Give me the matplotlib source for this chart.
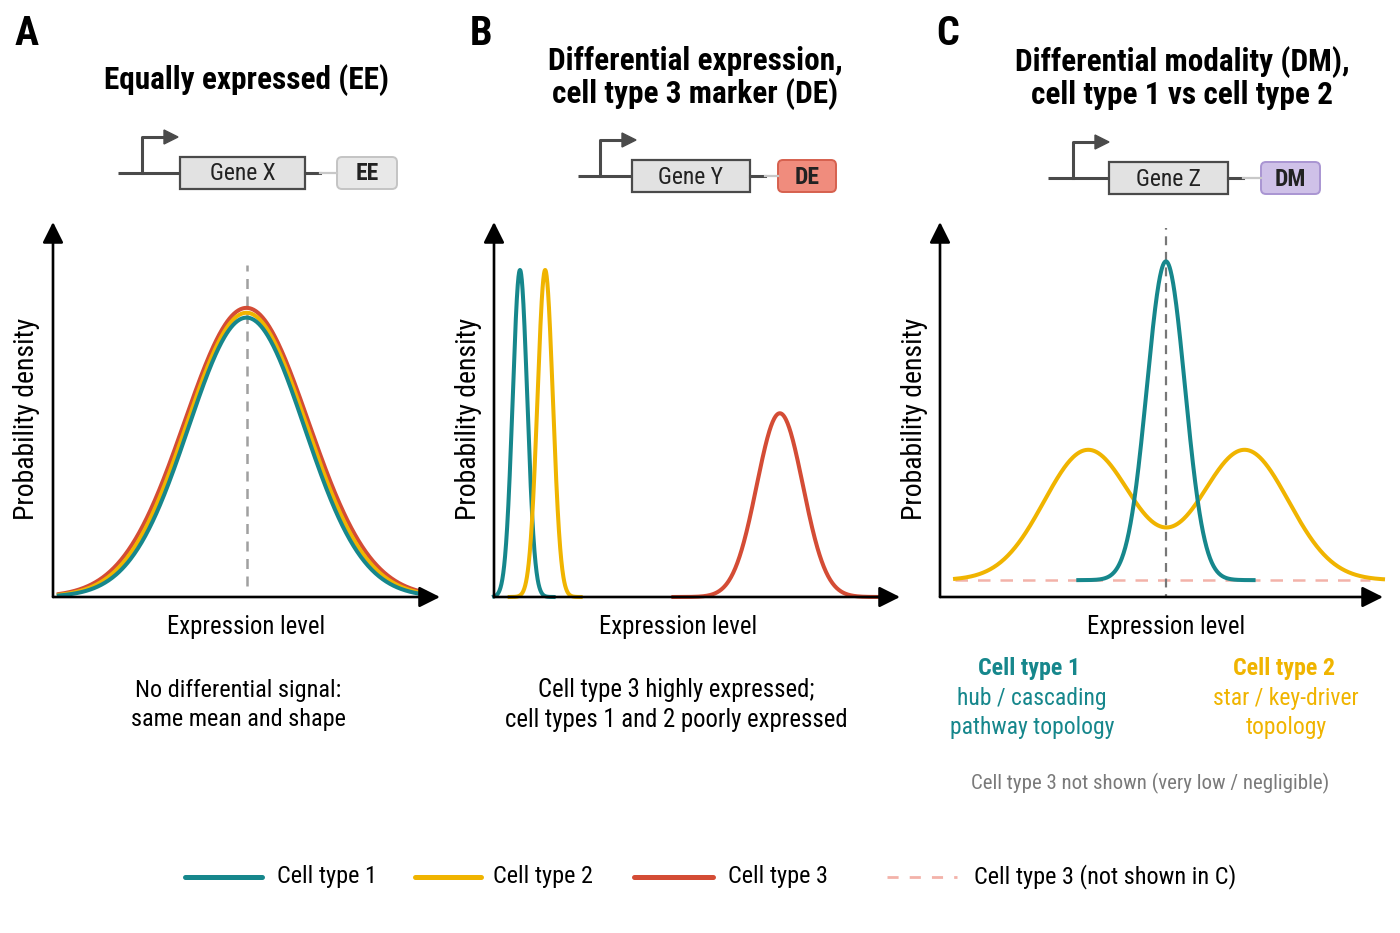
import numpy as np
import matplotlib
matplotlib.use('Agg')
import matplotlib.pyplot as plt
from matplotlib.patches import Rectangle, FancyBboxPatch, Polygon

plt.rcParams['font.family'] = ['Roboto Condensed', 'Liberation Sans Narrow',
                               'DejaVu Sans Condensed', 'Roboto', 'DejaVu Sans']

# colours per cell type
TEAL = '#16878c'
YELLOW = '#f0b400'
RED = '#d44c35'
PINK = '#f3b2a9'

# Gaussian density parameters (x: 0-10, y: 0-1)
# panel A: all three cell types, same mean and shape
a_mean = [5.0, 5.0, 5.0]          # teal, yellow, red
a_sd = [1.50, 1.55, 1.60]
a_peak = [0.745, 0.758, 0.771]

# panel B: types 1 and 2 low, type 3 high
b_mean = [0.64, 1.26, 7.04]
b_sd = [0.18, 0.19, 0.57]
b_peak = [0.872, 0.872, 0.49]

# panel C: type 1 unimodal, type 2 bimodal, on a small baseline
c_base = 0.045
c1_mean, c1_sd, c1_peak = 5.1, 0.43, 0.85
c2_means = [3.34, 6.88]
c2_sd = 0.99
c2_peak = 0.347

legend_labels = ['Cell type 1', 'Cell type 2', 'Cell type 3', 'Cell type 3 (not shown in C)']

W, H = 1400, 933
fig = plt.figure(figsize=(W / 100, H / 100), dpi=100)
fig.patch.set_facecolor('white')


def px_axes(left, right, top, bottom):
    ax = fig.add_axes([left / W, 1 - bottom / H, (right - left) / W, (bottom - top) / H])
    ax.set_xlim(0, 10)
    ax.set_ylim(0, 1)
    ax.axis('off')
    # arrow axes
    ap = dict(arrowstyle='-|>,head_length=0.9,head_width=0.45', lw=1.9, color='black',
              mutation_scale=14, shrinkA=0, shrinkB=0)
    ax.annotate('', xy=(1, 0), xytext=(0, 0), xycoords='axes fraction', arrowprops=ap)
    ax.annotate('', xy=(0, 1), xytext=(0, 0), xycoords='axes fraction', arrowprops=ap)
    return ax


def gauss(x, m, s, h):
    return h * np.exp(-0.5 * ((x - m) / s) ** 2)


axA = px_axes(53, 440, 222, 597)
axB = px_axes(494, 900, 222, 597)
axC = px_axes(940, 1383, 222, 597)

lw = 2.9
# A
x = np.linspace(0.15, 9.6, 500)
axA.plot([5.0, 5.0], [0.03, 0.885], color='#a0a0a0', lw=1.8, ls=(0, (4, 3)), zorder=1)
for m, s, h, c in zip(a_mean[::-1], a_sd[::-1], a_peak[::-1], [RED, YELLOW, TEAL]):
    axA.plot(x, gauss(x, m, s, h), color=c, lw=lw, zorder=2)

# B
for m, s, h, c in zip(b_mean, b_sd, b_peak, [TEAL, YELLOW, RED]):
    xx = np.linspace(max(0.0, m - 4.6 * s), m + 4.6 * s, 400)
    axB.plot(xx, gauss(xx, m, s, h), color=c, lw=lw, clip_on=False)

# C
axC.plot([0.34, 9.7], [c_base, c_base], color=PINK, lw=1.8, ls=(0, (5, 4)), zorder=1)
axC.plot([c1_mean, c1_mean], [-0.015, 0.985], color='#777777', lw=1.6, ls=(0, (4, 3)), zorder=1)
xx = np.linspace(0.34, 10.0, 600)
yy = c_base + gauss(xx, c2_means[0], c2_sd, c2_peak) + gauss(xx, c2_means[1], c2_sd, c2_peak)
axC.plot(xx, yy, color=YELLOW, lw=lw, zorder=2, clip_on=False)
xx = np.linspace(c1_mean - 4.6 * c1_sd, c1_mean + 4.6 * c1_sd, 400)
axC.plot(xx, c_base + gauss(xx, c1_mean, c1_sd, c1_peak), color=TEAL, lw=lw, zorder=3)

# overlay in pixel coordinates for the annotations
ov = fig.add_axes([0, 0, 1, 1], zorder=-1)
ov.set_xlim(0, W)
ov.set_ylim(H, 0)
ov.axis('off')

for lx, letter in [(27, 'A'), (481, 'B'), (948, 'C')]:
    ov.text(lx, 34, letter, fontsize=29, fontweight='bold', ha='center', va='center')

ov.text(246, 80, 'Equally expressed (EE)', fontsize=22.5, fontweight='bold', ha='center', va='center')
ov.text(695, 78, 'Differential expression,\ncell type 3 marker (DE)', fontsize=22.5,
        fontweight='bold', ha='center', va='center', linespacing=1.12)
ov.text(1182, 78, 'Differential modality (DM),\ncell type 1 vs cell type 2', fontsize=22.5,
        fontweight='bold', ha='center', va='center', linespacing=1.12)


def gene(x0, xp, gx0, gx1, y0, y1, tag_x0, tag_x1, name, tag, tfill, tedge):
    yc = (y0 + y1) / 2
    dark = '#4a4a4a'
    ov.plot([x0, gx0], [yc, yc], color=dark, lw=2.2, solid_capstyle='butt')
    ov.plot([xp, xp, xp + 24], [yc, yc - 36, yc - 36], color=dark, lw=2.2)
    ov.add_patch(Polygon([[xp + 22, yc - 43], [xp + 36, yc - 36], [xp + 22, yc - 29]],
                         closed=True, color=dark))
    ov.add_patch(Rectangle((gx0, y0), gx1 - gx0, y1 - y0, facecolor='#e2e2e2',
                           edgecolor=dark, lw=1.6))
    ov.text((gx0 + gx1) / 2, yc + 1, name, fontsize=17, ha='center', va='center', color='#222222')
    ov.plot([gx1, gx1 + 15], [yc, yc], color=dark, lw=2.2)
    ov.plot([gx1 + 15, tag_x0], [yc, yc], color='#c8c8c8', lw=1.6)
    ov.add_patch(FancyBboxPatch((tag_x0, y0), tag_x1 - tag_x0, y1 - y0,
                                boxstyle='round,pad=0,rounding_size=5',
                                facecolor=tfill, edgecolor=tedge, lw=1.4))
    ov.text((tag_x0 + tag_x1) / 2, yc + 1, tag, fontsize=17, fontweight='bold',
            ha='center', va='center', color='#222222')


gene(118, 142, 180, 305, 157, 189, 337, 397, 'Gene X', 'EE', '#e8e8e8', '#c4c4c4')
gene(578, 600, 632, 750, 160, 192, 778, 836, 'Gene Y', 'DE', '#f08c7d', '#d6604e')
gene(1048, 1073, 1109, 1228, 162, 194, 1261, 1320, 'Gene Z', 'DM', '#cfc1e8', '#a995d2')

# axis labels
for yx in [27, 469, 915]:
    ov.text(yx, 419, 'Probability density', fontsize=20, rotation=90, ha='center', va='center')
for xc in [246, 678, 1166]:
    ov.text(xc, 627, 'Expression level', fontsize=17.8, ha='center', va='center')

ov.text(238, 705, 'No differential signal:\nsame mean and shape', fontsize=17.5,
        ha='center', va='center', linespacing=1.35)
ov.text(676, 705, 'Cell type 3 highly expressed;\ncell types 1 and 2 poorly expressed',
        fontsize=17.8, ha='center', va='center', linespacing=1.35)

ov.text(1029, 669, 'Cell type 1', fontsize=17.3, fontweight='bold', color=TEAL, ha='center', va='center')
ov.text(1032, 713, 'hub / cascading\npathway topology', fontsize=17, color=TEAL,
        ha='center', va='center', linespacing=1.28)
ov.text(1284, 669, 'Cell type 2', fontsize=17.3, fontweight='bold', color=YELLOW, ha='center', va='center')
ov.text(1286, 713, 'star / key-driver\ntopology', fontsize=17, color=YELLOW,
        ha='center', va='center', linespacing=1.28)
ov.text(1150, 783, 'Cell type 3 not shown (very low / negligible)', fontsize=15,
        color='#7a7a7a', ha='center', va='center')

# legend
leg_x = [(185, 262, 277), (415, 481, 493), (634, 713, 728), (887, 957, 974)]
leg_c = [TEAL, YELLOW, RED, PINK]
for (x0, x1, tx), c, lab in zip(leg_x, leg_c, legend_labels):
    if c == PINK:
        ov.plot([x0, x1], [877, 877], color=c, lw=2.0, ls=(0, (4, 4)))
    else:
        ov.plot([x0, x1], [877, 877], color=c, lw=3.6, solid_capstyle='round')
    ov.text(tx, 877, lab, fontsize=17.5, ha='left', va='center')

fig.savefig('out.png', dpi=100, facecolor='white')
